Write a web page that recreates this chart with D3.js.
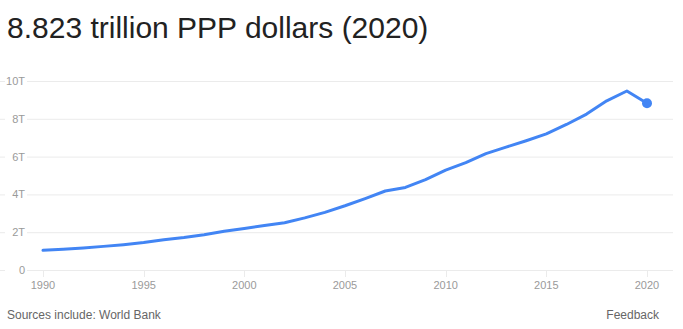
<!DOCTYPE html>
<html>
<head>
<meta charset="utf-8">
<script src="https://cdn.jsdelivr.net/npm/d3@7"></script>
<style>
  body { margin: 0; background: #fff; font-family: "Liberation Sans", Arial, sans-serif; }
  svg { display: block; }
</style>
</head>
<body>
<svg width="683" height="329"></svg>
<script>
// yearly GDP, PPP (trillion dollars)
var years = d3.range(1990, 2021);
var gdp = [1.04, 1.10, 1.17, 1.25, 1.34, 1.45, 1.60, 1.72, 1.87, 2.05,
           2.20, 2.36, 2.50, 2.76, 3.05, 3.40, 3.78, 4.18, 4.37, 4.78,
           5.28, 5.68, 6.16, 6.50, 6.84, 7.20, 7.70, 8.25, 8.95, 9.47,
           8.823];
var yTicks = [0, 2, 4, 6, 8, 10];
var xTicks = [1990, 1995, 2000, 2005, 2010, 2015, 2020];
var title = '8.823 trillion PPP dollars (2020)';

var svg = d3.select('svg');

var x = d3.scaleLinear().domain([1990, 2020]).range([43, 647]);
var y = d3.scaleLinear().domain([0, 10]).range([270, 81]);

svg.append('text')
  .attr('x', 7)
  .attr('y', 38)
  .attr('font-size', 30)
  .attr('fill', '#222')
  .text(title);

// gridlines
svg.append('g').selectAll('line')
  .data(yTicks).enter()
  .append('line')
    .attr('x1', 0)
    .attr('x2', 673)
    .attr('y1', d => y(d) + 0.5)
    .attr('y2', d => y(d) + 0.5)
    .attr('stroke', '#ebebeb');

// y labels with white backing
var yl = svg.append('g').selectAll('g')
  .data(yTicks).enter()
  .append('g');
yl.append('rect')
  .attr('x', 5)
  .attr('y', d => y(d) - 7)
  .attr('width', 22)
  .attr('height', 14)
  .attr('fill', '#fff');
yl.append('text')
  .attr('x', 25)
  .attr('y', d => y(d) + 4)
  .attr('text-anchor', 'end')
  .attr('font-size', 11)
  .attr('fill', '#9a9a9a')
  .text(d => d === 0 ? '0' : d + 'T');

// x ticks
var xa = svg.append('g').selectAll('g')
  .data(xTicks).enter()
  .append('g');
xa.append('line')
  .attr('x1', d => Math.round(x(d)) + 0.5)
  .attr('x2', d => Math.round(x(d)) + 0.5)
  .attr('y1', 271)
  .attr('y2', 277)
  .attr('stroke', '#ebebeb');
xa.append('text')
  .attr('x', d => x(d))
  .attr('y', 289)
  .attr('text-anchor', 'middle')
  .attr('font-size', 11)
  .attr('fill', '#9a9a9a')
  .text(d => d);

// line
var line = d3.line()
  .x((d, i) => x(years[i]))
  .y(d => y(d));

svg.append('path')
  .datum(gdp)
  .attr('d', line)
  .attr('fill', 'none')
  .attr('stroke', '#4285f4')
  .attr('stroke-width', 3)
  .attr('stroke-linejoin', 'round')
  .attr('stroke-linecap', 'round');

svg.append('circle')
  .attr('cx', x(years[years.length - 1]))
  .attr('cy', y(gdp[gdp.length - 1]))
  .attr('r', 5)
  .attr('fill', '#4285f4');

// footer
svg.append('text')
  .attr('x', 7)
  .attr('y', 319)
  .attr('font-size', 12)
  .attr('fill', '#666')
  .text('Sources include: World Bank');

svg.append('text')
  .attr('x', 659)
  .attr('y', 319)
  .attr('text-anchor', 'end')
  .attr('font-size', 12)
  .attr('fill', '#666')
  .text('Feedback');
</script>
</body>
</html>
